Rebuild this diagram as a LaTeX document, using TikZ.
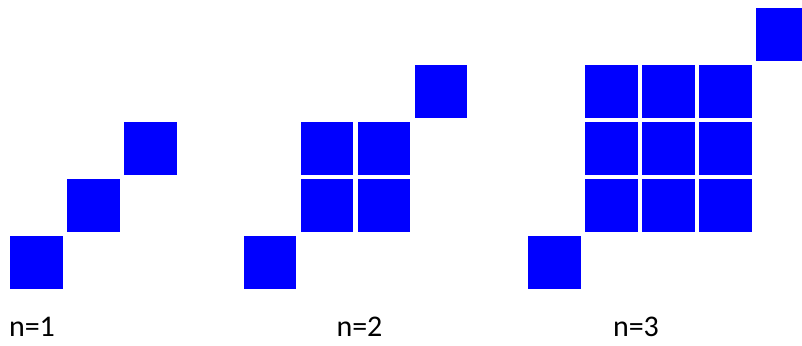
\documentclass[tikz,border=0pt]{standalone}
\usepackage{fontspec}
\setmainfont{Carlito}
\usetikzlibrary{positioning,calc}
\definecolor{Cell}{HTML}{0000FF}

\begin{document}
\begin{tikzpicture}[x=1pt,y=-1pt,
  cell/.style={fill=Cell,inner sep=0pt,outer sep=0pt,minimum size=52.5pt},
  tag/.style={anchor=base,inner sep=0pt,font=\fontsize{30}{32}\selectfont}]
\useasboundingbox (0,0) rectangle (802,345);
\clip (0,0) rectangle (802,345);
% one figure per n: lone cell, n x n block, lone cell
\foreach \k/\ox in {1/10,2/243.5,3/528} {
  \node[cell] (b\k) at ({\ox+26.25},262.25) {};
  \foreach \i in {1,...,\k} {\foreach \j in {1,...,\k} {\node[cell] (c\k-\i-\j) at ({\ox+57*\i+26.25},{236-57*\j+26.25}) {};}}
  \node[cell] (t\k) at ({\ox+57*(\k+1)+26.25},{236-57*(\k+1)+26.25}) {};
}
\node[tag] (l1) at (32,336) {n=1};
\node[tag] (l2) at (359.5,336) {n=2};
\node[tag] (l3) at (636,336) {n=3};
\end{tikzpicture}
\end{document}
